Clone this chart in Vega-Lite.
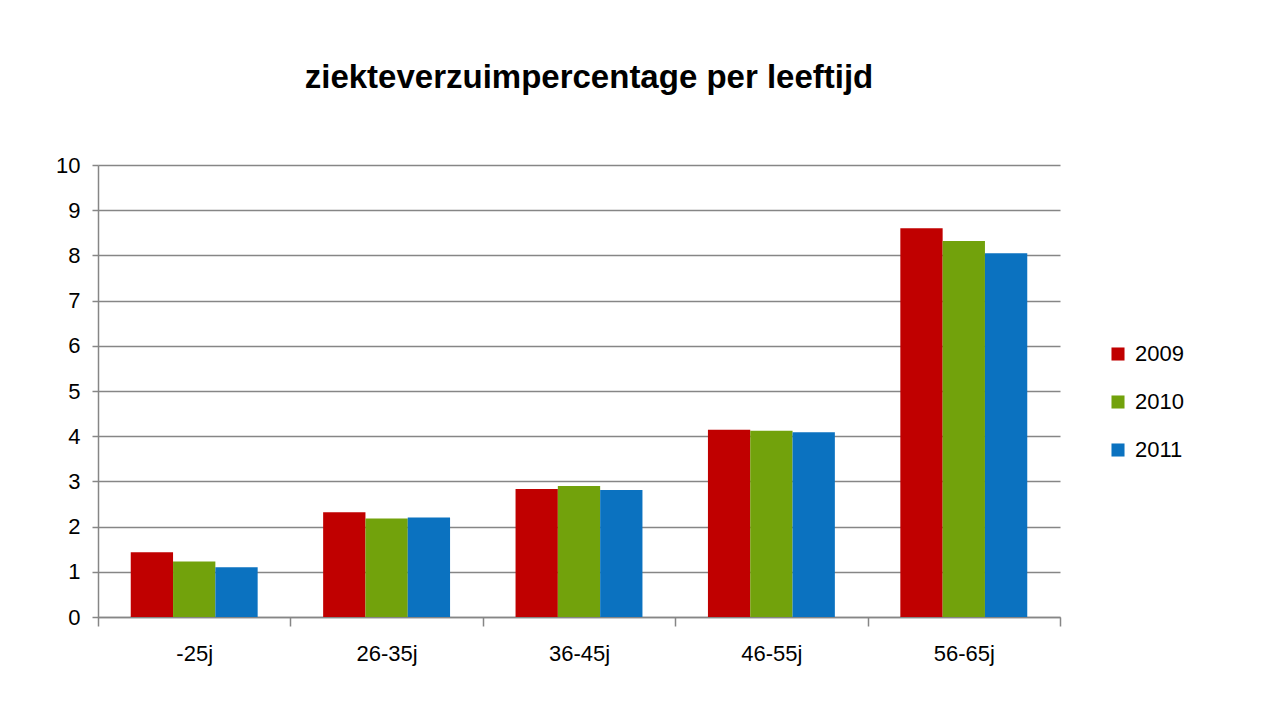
{
  "$schema": "https://vega.github.io/schema/vega-lite/v6.json",
  "autosize": {"type": "none"},
  "width": 962,
  "height": 452,
  "padding": {"left": 98, "top": 165, "right": 203, "bottom": 90},
  "background": "white",
  "title": {
    "text": "ziekteverzuimpercentage per leeftijd",
    "font": "Liberation Sans",
    "fontSize": 33,
    "fontWeight": "bold",
    "color": "#000000",
    "anchor": "middle",
    "dx": 10,
    "offset": 59
  },
  "data": {
    "values": [
      {"leeftijd": "-25j", "jaar": "2009", "pct": 1.43},
      {"leeftijd": "-25j", "jaar": "2010", "pct": 1.23},
      {"leeftijd": "-25j", "jaar": "2011", "pct": 1.1},
      {"leeftijd": "26-35j", "jaar": "2009", "pct": 2.32},
      {"leeftijd": "26-35j", "jaar": "2010", "pct": 2.18},
      {"leeftijd": "26-35j", "jaar": "2011", "pct": 2.2},
      {"leeftijd": "36-45j", "jaar": "2009", "pct": 2.83},
      {"leeftijd": "36-45j", "jaar": "2010", "pct": 2.9},
      {"leeftijd": "36-45j", "jaar": "2011", "pct": 2.81},
      {"leeftijd": "46-55j", "jaar": "2009", "pct": 4.14},
      {"leeftijd": "46-55j", "jaar": "2010", "pct": 4.12},
      {"leeftijd": "46-55j", "jaar": "2011", "pct": 4.09},
      {"leeftijd": "56-65j", "jaar": "2009", "pct": 8.6},
      {"leeftijd": "56-65j", "jaar": "2010", "pct": 8.32},
      {"leeftijd": "56-65j", "jaar": "2011", "pct": 8.05}
    ]
  },
  "mark": {"type": "bar"},
  "encoding": {
    "x": {
      "field": "leeftijd",
      "type": "nominal",
      "sort": ["-25j", "26-35j", "36-45j", "46-55j", "56-65j"],
      "scale": {"paddingInner": 0, "paddingOuter": 0},
      "axis": {
        "title": null,
        "labelAngle": 0,
        "tickBand": "extent",
        "tickSize": 9,
        "tickColor": "#868686",
        "tickWidth": 1.5,
        "domainColor": "#868686",
        "domainWidth": 1.5,
        "labelFont": "Liberation Sans",
        "labelFontSize": 22,
        "labelColor": "#000000",
        "labelPadding": 17,
        "grid": false
      }
    },
    "xOffset": {
      "field": "jaar",
      "type": "nominal",
      "scale": {"paddingInner": 0, "paddingOuter": 0.774}
    },
    "y": {
      "field": "pct",
      "type": "quantitative",
      "scale": {"domain": [0, 10], "nice": false},
      "axis": {
        "title": null,
        "values": [0, 1, 2, 3, 4, 5, 6, 7, 8, 9, 10],
        "grid": true,
        "gridColor": "#868686",
        "gridWidth": 1.5,
        "tickSize": 6,
        "tickColor": "#868686",
        "tickWidth": 1.5,
        "domainColor": "#868686",
        "domainWidth": 1.5,
        "labelFont": "Liberation Sans",
        "labelFontSize": 22,
        "labelColor": "#000000",
        "labelPadding": 12
      }
    },
    "color": {
      "field": "jaar",
      "type": "nominal",
      "scale": {"domain": ["2009", "2010", "2011"], "range": ["#C00000", "#72A20C", "#0B72C0"]},
      "legend": {
        "title": null,
        "orient": "none",
        "legendX": 1009,
        "legendY": 178,
        "padding": 0,
        "symbolType": "square",
        "symbolSize": 170,
        "symbolStrokeWidth": 0,
        "labelFont": "Liberation Sans",
        "labelFontSize": 22,
        "labelColor": "#000000",
        "labelOffset": 6,
        "rowPadding": 26
      }
    }
  },
  "config": {
    "view": {"stroke": null}
  }
}
